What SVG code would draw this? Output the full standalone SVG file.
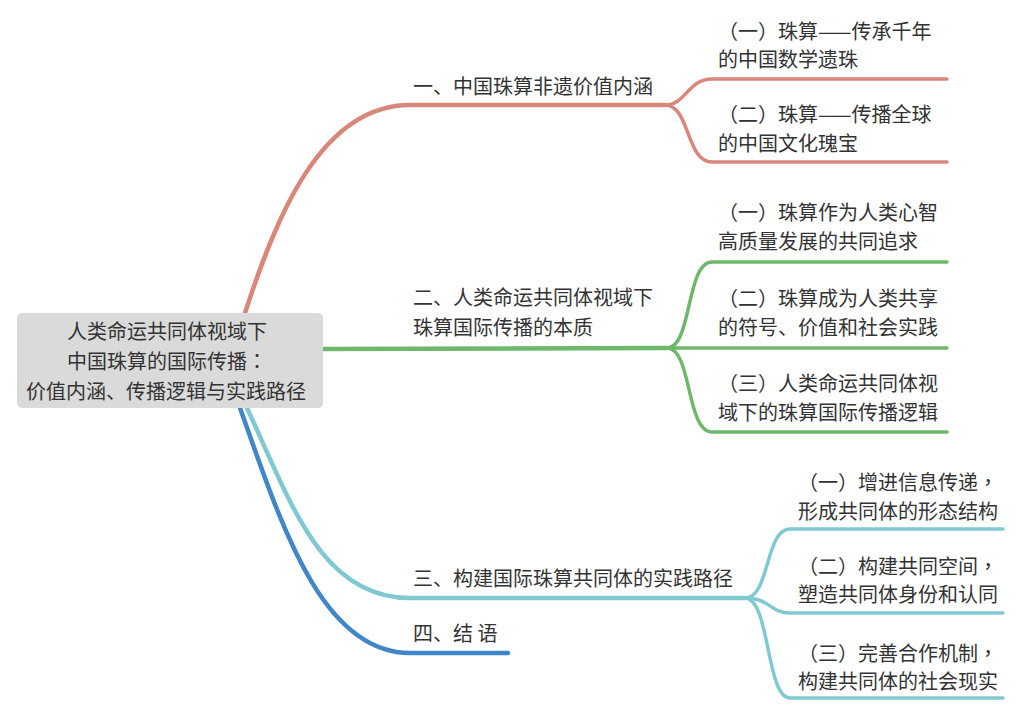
<svg xmlns="http://www.w3.org/2000/svg" width="1030" height="717" viewBox="0 0 1030 717">
<style>
text{font-family:"Noto Sans CJK SC","Noto Sans",sans-serif;font-size:20px;fill:#333;}
.p{font-family:"Noto Sans CJK TC","Noto Sans CJK SC",sans-serif;}
.c{fill:none;stroke-linecap:round;stroke-linejoin:round;}
.m{stroke-width:4.5;}
.s{stroke-width:3.5;}
.r{stroke:#d9877a;}
.g{stroke:#6db86b;}
.t{stroke:#80c9d3;}
.b{stroke:#4186c8;}
</style>
<rect width="1030" height="717" fill="#fff"/>
<g id="connectors">
<path class="c m r" d="M245,313 C275,220 320,105 410,105 L665,105"/>
<path class="c s r" d="M665,105 C686,105 688,79 712,79 L947,79"/>
<path class="c s r" d="M665,105 C690,105 686,162 712,162 L947,162"/>
<path class="c m g" d="M323,349 L667,348"/>
<path class="c s g" d="M667,348 C692,348 686,262 712,262 L947,262"/>
<path class="c s g" d="M667,348 L947,348"/>
<path class="c s g" d="M667,348 C692,348 686,432 712,432 L947,432"/>
<path class="c m b" d="M240,408 C280,520 320,653 410,653 L508,653"/>
<path class="c m t" d="M247,408 C290,500 320,598 410,598 L745,598"/>
<path class="c s t" d="M745,598 C770,598 765,529 790,529 L1003,529"/>
<path class="c s t" d="M745,598 C770,598 770,613 790,613 L1003,613"/>
<path class="c s t" d="M745,598 C770,598 766,698 790,698 L1003,698"/>
</g>
<g id="root">
<rect x="17" y="313" width="306" height="95" rx="5" fill="#dadada"/>
<text x="167" y="339" text-anchor="middle">人类命运共同体视域下</text>
<text x="167" y="369" text-anchor="middle">中国珠算的国际传播<tspan class="p">：</tspan></text>
<text x="166" y="399" text-anchor="middle">价值内涵、传播逻辑与实践路径</text>
</g>
<g id="b1"><text x="413" y="94">一、中国珠算非遗价值内涵</text></g>
<g id="b1-1"><text x="718" y="39">（一）珠算——传承千年</text><text x="718" y="67">的中国数学遗珠</text></g>
<g id="b1-2"><text x="718" y="122">（二）珠算——传播全球</text><text x="718" y="151">的中国文化瑰宝</text></g>
<g id="b2"><text x="413" y="305">二、人类命运共同体视域下</text><text x="413" y="335">珠算国际传播的本质</text></g>
<g id="b2-1"><text x="718" y="220">（一）珠算作为人类心智</text><text x="718" y="249">高质量发展的共同追求</text></g>
<g id="b2-2"><text x="718" y="306">（二）珠算成为人类共享</text><text x="718" y="335">的符号、价值和社会实践</text></g>
<g id="b2-3"><text x="718" y="391">（三）人类命运共同体视</text><text x="718" y="420">域下的珠算国际传播逻辑</text></g>
<g id="b3"><text x="413" y="586">三、构建国际珠算共同体的实践路径</text></g>
<g id="b3-1"><text x="798" y="490">（一）增进信息传递<tspan class="p">，</tspan></text><text x="798" y="519">形成共同体的形态结构</text></g>
<g id="b3-2"><text x="798" y="574">（二）构建共同空间<tspan class="p">，</tspan></text><text x="798" y="602">塑造共同体身份和认同</text></g>
<g id="b3-3"><text x="798" y="661">（三）完善合作机制<tspan class="p">，</tspan></text><text x="798" y="689">构建共同体的社会现实</text></g>
<g id="b4"><text x="413" y="641">四、结 语</text></g>
</svg>
